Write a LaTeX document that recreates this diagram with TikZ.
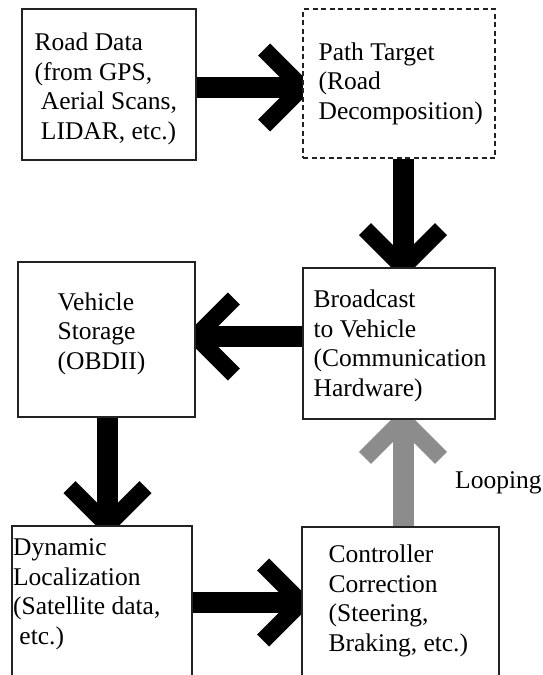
\documentclass[tikz,border=0pt]{standalone}
\usepackage{fontspec}
\setmainfont{Liberation Serif}
\usetikzlibrary{arrows.meta, backgrounds}
\definecolor{loopgray}{HTML}{8C8C8C}
\definecolor{boxline}{HTML}{222222}

\begin{document}
\begin{tikzpicture}[
    x=1pt, y=-1pt,
    every node/.style={font=\fontsize{25.5}{29.7}\selectfont},
    block/.style={draw=boxline, fill=white, line width=1.2pt, inner sep=0pt},
    target/.style={block, dash pattern=on 5pt off 3.5pt},
    words/.style={anchor=base west, align=left, inner sep=0pt},
    flow/.style={line width=21pt, shorten >=-11.7pt,
        -{Straight Barb[length=38pt, width=76pt, line width=17pt]}},
    loopflow/.style={flow, draw=loopgray}
]
\path[use as bounding box, clip] (0,0) rectangle (542,675);

% boxes
\node[block, minimum width=174pt, minimum height=151pt] (road) at (109,84.5) {};
\node[target, minimum width=192pt, minimum height=149pt] (path) at (399,83.5) {};
\node[block, minimum width=177pt, minimum height=155pt] (store) at (106.5,339.5) {};
\node[block, minimum width=192pt, minimum height=151pt] (cast) at (399,343.5) {};
\node[block, minimum width=180pt, minimum height=160pt] (local) at (102,606) {};
\node[block, minimum width=197pt, minimum height=160pt] (ctrl) at (400.5,607) {};

% texts (placed by the baseline of their last line)
\node[words] (roadtxt) at ([shift={(13,131)}]road.north west)
    {Road Data\\(from GPS,\\\ Aerial Scans,\\\ LIDAR, etc.)};
\node[words] (pathtxt) at ([shift={(16,111)}]path.north west)
    {Path Target\\(Road\\Decomposition)};
\node[words] (storetxt) at ([shift={(40,108)}]store.north west)
    {Vehicle\\Storage\\(OBDII)};
\node[words] (casttxt) at ([shift={(11,129)}]cast.north west)
    {Broadcast\\to Vehicle\\(Communication\\Hardware)};
\node[words] (localtxt) at ([shift={(1.5,119)}]local.north west)
    {Dynamic\\Localization\\(Satellite data,\\\ etc.)};
\node[words] (ctrltxt) at ([shift={(27,125)}]ctrl.north west)
    {Controller\\Correction\\(Steering,\\Braking, etc.)};
\node[words] (looptxt) at (455,488) {Looping};

% arrows
\begin{scope}[on background layer]
\draw[flow] ([yshift=-3pt]road.east) -- ([yshift=-3pt]road.east -| path.west);
\draw[flow] ([xshift=4pt]path.south) -- ([xshift=4pt]path.south |- cast.north);
\draw[flow] ([yshift=7pt]cast.west) -- ([yshift=7pt]cast.west -| store.east);
\draw[flow] ([xshift=1pt]store.south) -- ([xshift=1pt]store.south |- local.north);
\draw[flow] ([yshift=3.5pt]local.east) -- ([yshift=3.5pt]local.east -| ctrl.west);
\draw[loopflow] ([xshift=2.5pt]ctrl.north) -- ([xshift=2.5pt]ctrl.north |- cast.south);
\end{scope}
\end{tikzpicture}
\end{document}
